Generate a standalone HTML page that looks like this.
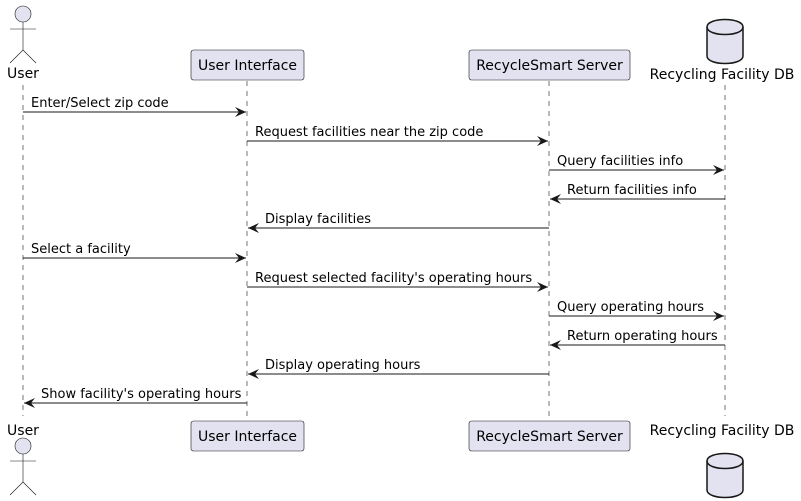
<!DOCTYPE html>
<html><head><style>body{margin:0;background:#fff}svg{display:block}text{font-family:"DejaVu Sans","Liberation Sans",sans-serif;fill:#000}</style></head>
<body>
<svg width="801" height="501" viewBox="0 0 801 501" xmlns="http://www.w3.org/2000/svg">
<defs><marker id="a" markerWidth="12" markerHeight="10" refX="11" refY="5" orient="auto" markerUnits="userSpaceOnUse"><path d="M0,0 L11,5 L0,10 L4,5 Z" fill="#181818"/></marker></defs>
<g stroke="#181818" stroke-width="0.6" stroke-dasharray="5,5">
<line x1="23" y1="85" x2="23" y2="416"/><line x1="247" y1="81" x2="247" y2="421"/><line x1="549" y1="81" x2="549" y2="421"/><line x1="725" y1="85" x2="725" y2="416"/></g>
<g fill="#E2E2F0" stroke="#181818" stroke-width="0.6">
<circle cx="23" cy="14" r="8"/><line x1="23" y1="22" x2="23" y2="50"/><line x1="10" y1="29" x2="36" y2="29"/><line x1="23" y1="50" x2="10" y2="63"/><line x1="23" y1="50" x2="36" y2="63"/>
<rect x="191" y="50" width="113" height="30" rx="2.5"/><rect x="469" y="50" width="161" height="30" rx="2.5"/>
<circle cx="23" cy="446" r="8"/><line x1="23" y1="454" x2="23" y2="482"/><line x1="10" y1="461" x2="36" y2="461"/><line x1="23" y1="482" x2="10" y2="495"/><line x1="23" y1="482" x2="36" y2="495"/>
<rect x="191" y="421" width="113" height="30" rx="2.5"/><rect x="469" y="421" width="161" height="30" rx="2.5"/></g>
<g fill="#E2E2F0" stroke="#181818" stroke-width="1.5">
<path d="M707,27 C707,17 743,17 743,27 L743,56 C743,66 707,66 707,56 Z"/><path d="M707,27 C707,37 743,37 743,27" fill="none"/>
<path d="M707,461 C707,451 743,451 743,461 L743,490 C743,500 707,500 707,490 Z"/><path d="M707,461 C707,471 743,471 743,461" fill="none"/></g>
<g font-size="14" text-anchor="middle">
<text x="23" y="78">User</text><text x="247.5" y="70">User Interface</text><text x="549.5" y="70">RecycleSmart Server</text><text x="722" y="79">Recycling Facility DB</text>
<text x="23" y="435">User</text><text x="247.5" y="441">User Interface</text><text x="549.5" y="441">RecycleSmart Server</text><text x="722" y="435">Recycling Facility DB</text></g>
<g stroke="#181818" stroke-width="1" marker-end="url(#a)">
<line x1="23" y1="112" x2="246" y2="112"/><line x1="247" y1="141" x2="548" y2="141"/><line x1="549" y1="170" x2="724" y2="170"/>
<line x1="725" y1="199" x2="550" y2="199"/><line x1="549" y1="228" x2="248" y2="228"/><line x1="23" y1="258" x2="246" y2="258"/>
<line x1="247" y1="287" x2="548" y2="287"/><line x1="549" y1="316" x2="724" y2="316"/><line x1="725" y1="345" x2="550" y2="345"/>
<line x1="549" y1="374" x2="248" y2="374"/><line x1="247" y1="403" x2="24" y2="403"/></g>
<g font-size="13">
<text x="31" y="107">Enter/Select zip code</text>
<text x="255" y="136">Request facilities near the zip code</text>
<text x="557" y="165">Query facilities info</text>
<text x="567" y="194">Return facilities info</text>
<text x="265" y="223">Display facilities</text>
<text x="31" y="253">Select a facility</text>
<text x="255" y="282">Request selected facility's operating hours</text>
<text x="557" y="311">Query operating hours</text>
<text x="567" y="340">Return operating hours</text>
<text x="265" y="369">Display operating hours</text>
<text x="41" y="398">Show facility's operating hours</text></g>
</svg>
</body></html>
